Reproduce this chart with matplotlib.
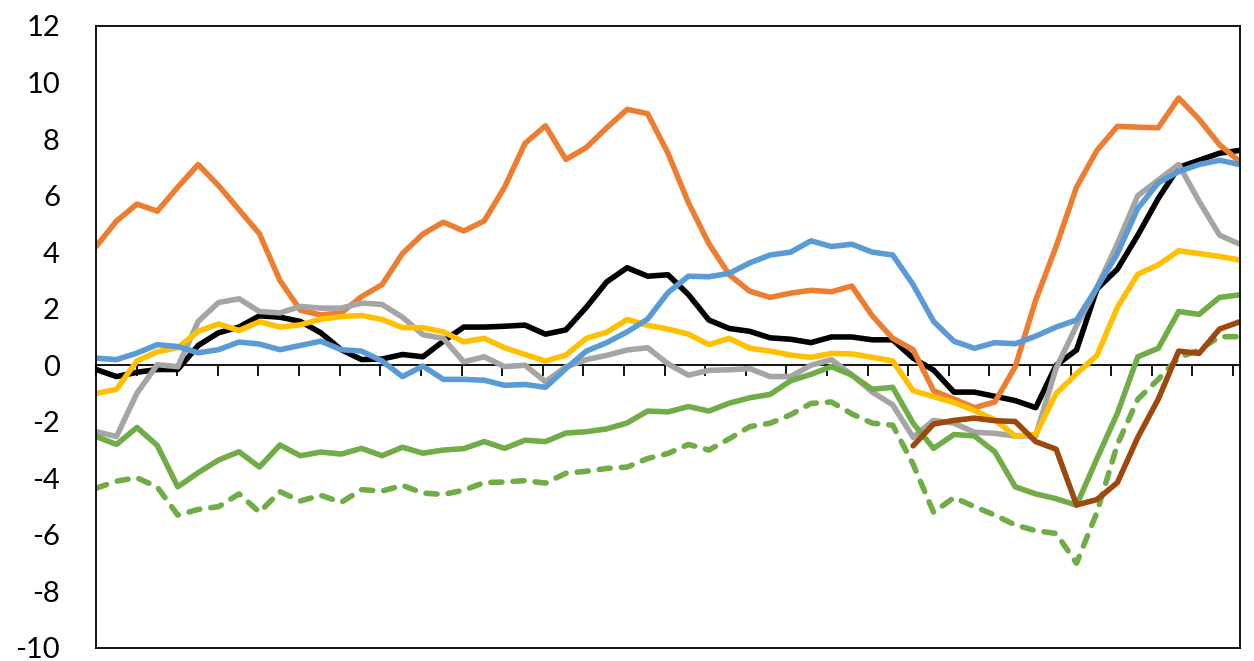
import matplotlib.pyplot as plt
import numpy as np

# 57 equally spaced samples across the plot, x in "tick" units (28 ticks)
X_END = 28.17

black = [-0.15, -0.4, -0.25, -0.15, -0.15, 0.7, 1.15, 1.35, 1.75, 1.7,
         1.55, 1.15, 0.55, 0.2, 0.22, 0.38, 0.3, 0.85, 1.35, 1.35,
         1.38, 1.42, 1.1, 1.25, 2.05, 2.95, 3.45, 3.15, 3.2, 2.5,
         1.6, 1.3, 1.2, 0.97, 0.92, 0.8, 1.0, 1.0, 0.9, 0.9,
         0.25, -0.17, -0.95, -0.95, -1.1, -1.25, -1.5, 0.0, 0.54, 2.7,
         3.4, 4.6, 5.9, 7.0, 7.25, 7.5, 7.6]
orange = [4.2, 5.1, 5.7, 5.45, 6.3, 7.1, 6.35, 5.5, 4.65, 3.0,
          1.95, 1.78, 1.85, 2.43, 2.85, 3.95, 4.64, 5.06, 4.75, 5.1,
          6.3, 7.85, 8.47, 7.28, 7.7, 8.4, 9.05, 8.9, 7.5, 5.75,
          4.3, 3.2, 2.62, 2.4, 2.55, 2.65, 2.6, 2.8, 1.75, 0.95,
          0.55, -0.9, -1.2, -1.5, -1.3, -0.05, 2.3, 4.2, 6.3, 7.6,
          8.45, 8.42, 8.4, 9.45, 8.7, 7.8, 7.2]
gray = [-2.35, -2.52, -0.99, 0.02, -0.05, 1.55, 2.22, 2.35, 1.9, 1.85,
        2.08, 2.02, 2.02, 2.2, 2.15, 1.7, 1.08, 0.95, 0.12, 0.3,
        -0.05, 0.0, -0.58, -0.06, 0.2, 0.35, 0.54, 0.62, 0.05, -0.35,
        -0.18, -0.16, -0.12, -0.4, -0.4, 0.0, 0.2, -0.34, -0.95, -1.4,
        -2.55, -1.95, -2.05, -2.37, -2.41, -2.5, -2.5, -0.1, 1.4, 2.75,
        4.3, 6.0, 6.55, 7.1, 5.8, 4.6, 4.28]
yellow = [-1.0, -0.85, 0.15, 0.48, 0.62, 1.2, 1.46, 1.23, 1.54, 1.35,
          1.43, 1.63, 1.72, 1.76, 1.62, 1.33, 1.33, 1.18, 0.83, 0.95,
          0.62, 0.38, 0.15, 0.36, 0.95, 1.17, 1.62, 1.41, 1.28, 1.1,
          0.73, 0.95, 0.6, 0.5, 0.36, 0.28, 0.42, 0.4, 0.28, 0.15,
          -0.9, -1.11, -1.32, -1.6, -1.93, -2.5, -2.45, -1.0, -0.3, 0.35,
          2.05, 3.22, 3.55, 4.05, 3.95, 3.85, 3.72]
blue = [0.25, 0.2, 0.43, 0.73, 0.66, 0.44, 0.55, 0.82, 0.75, 0.55,
        0.7, 0.85, 0.55, 0.5, 0.15, -0.4, -0.03, -0.5, -0.5, -0.53,
        -0.71, -0.68, -0.78, -0.12, 0.5, 0.8, 1.18, 1.63, 2.57, 3.15,
        3.13, 3.25, 3.62, 3.9, 4.0, 4.4, 4.2, 4.28, 4.0, 3.9,
        2.85, 1.55, 0.85, 0.6, 0.8, 0.76, 1.03, 1.35, 1.6, 2.75,
        3.95, 5.55, 6.45, 6.85, 7.1, 7.25, 7.1]
green = [-2.52, -2.8, -2.2, -2.84, -4.3, -3.8, -3.35, -3.06, -3.6, -2.82,
         -3.2, -3.07, -3.14, -2.94, -3.2, -2.9, -3.11, -3.0, -2.95, -2.7,
         -2.94, -2.65, -2.7, -2.4, -2.35, -2.25, -2.04, -1.62, -1.65, -1.46,
         -1.62, -1.34, -1.15, -1.03, -0.55, -0.32, -0.05, -0.35, -0.85, -0.78,
         -2.05, -2.94, -2.45, -2.5, -3.06, -4.3, -4.55, -4.72, -4.95, -3.3,
         -1.7, 0.3, 0.6, 1.9, 1.8, 2.4, 2.49]
green_dashed = [-4.35, -4.1, -3.98, -4.31, -5.3, -5.1, -5.0, -4.55, -5.2, -4.47,
                -4.8, -4.6, -4.85, -4.4, -4.45, -4.25, -4.52, -4.57, -4.42, -4.15,
                -4.13, -4.08, -4.17, -3.82, -3.75, -3.65, -3.6, -3.3, -3.12, -2.8,
                -3.0, -2.6, -2.17, -2.05, -1.75, -1.35, -1.3, -1.72, -2.05, -2.12,
                -3.5, -5.2, -4.68, -5.0, -5.3, -5.65, -5.85, -5.95, -7.0, -5.2,
                -2.8, -1.2, -0.5, 0.27, 0.54, 1.01, 1.01]
brown = [np.nan] * 40 + [-2.85, -2.08, -1.95, -1.87, -1.96, -1.99, -2.7, -2.97, -4.94, -4.75,
                         -4.15, -2.55, -1.2, 0.5, 0.42, 1.28, 1.54]

y_ticks = list(range(-10, 13, 2))

fig = plt.figure(figsize=(12.54, 6.61), dpi=100)
ax = fig.add_axes([0.0766, 0.0197, 0.9122, 0.941])

x = np.linspace(0, X_END, len(black))
style = dict(lw=4.0, solid_joinstyle="round", solid_capstyle="round")

ax.plot(x, black, color="black", **style)
ax.plot(x, orange, color="#ED7D31", **style)
ax.plot(x, gray, color="#A5A5A5", **style)
ax.plot(x, yellow, color="#FFC000", **style)
ax.plot(x, blue, color="#5B9BD5", **style)
ax.plot(x, green, color="#70AD47", **style)
ax.plot(x, green_dashed, color="#70AD47", lw=4.0, linestyle=(0, (2.0, 2.0)),
        dash_capstyle="round")
ax.plot(x, brown, color="#9E480E", **style)

ax.set_xlim(0, X_END)
ax.set_ylim(-10, 12)
ax.set_yticks(y_ticks)
ax.set_yticklabels([str(v) for v in y_ticks], fontsize=21, family="Lato")
ax.tick_params(axis="y", length=0, pad=26)
ax.set_xticks([])
for spine in ax.spines.values():
    spine.set_linewidth(1.3)

# category axis crossing at zero
zero_axis = ax.secondary_xaxis(10 / 22)
zero_axis.set_xticks(np.arange(0, 29))
zero_axis.set_xticklabels([])
zero_axis.tick_params(axis="x", direction="out", length=8, width=1.3)
zero_axis.spines["bottom"].set_linewidth(1.3)

fig.savefig("out.png", dpi=100)
